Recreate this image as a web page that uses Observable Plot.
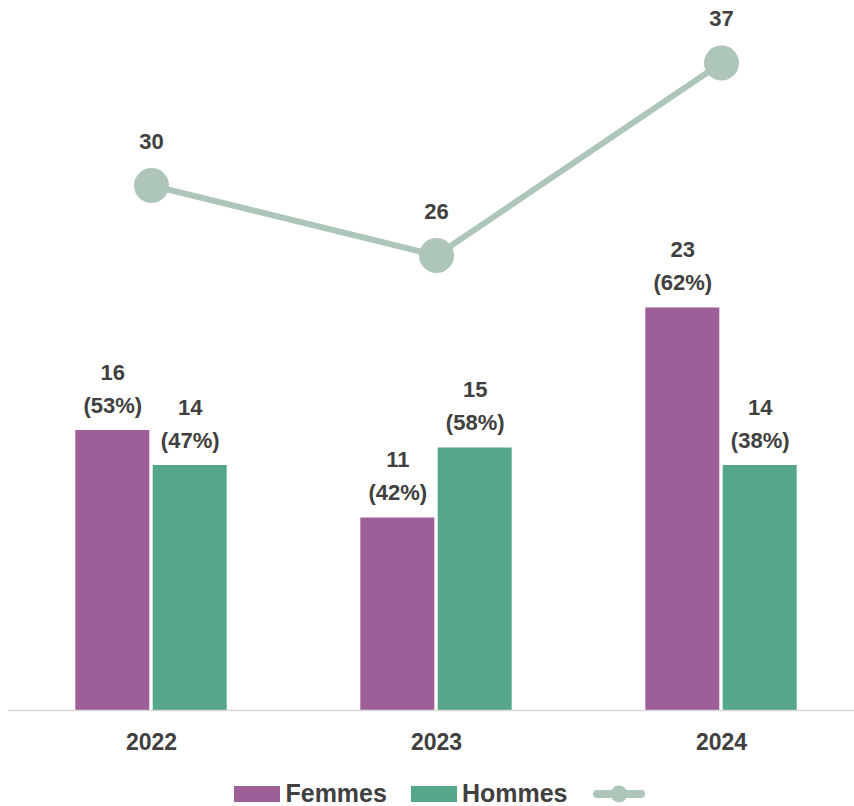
<!DOCTYPE html>
<html>
<head>
<meta charset="utf-8">
<script src="https://cdn.jsdelivr.net/npm/d3@7"></script>
<script src="https://cdn.jsdelivr.net/npm/@observablehq/plot@0.6"></script>
<style>
  body { margin: 0; background: #fff; font-family: "Liberation Sans", Arial, sans-serif; overflow: hidden; }
  #chart svg { display: block; }
  #legend { display: flex; justify-content: center; align-items: center; padding-top: 21px; padding-left: 26px; color: #404040; font-weight: bold; font-size: 25px; line-height: 1; }
  .item { display: flex; align-items: center; margin: 0 12px; }
  .sw { width: 46px; height: 16px; margin-right: 5px; }
</style>
</head>
<body>
<div id="chart"></div>
<div id="legend"></div>
<script>
const years = ["2022", "2023", "2024"];
const femmes = [16, 11, 23];
const hommes = [14, 15, 14];
const femmesPct = [53, 42, 62];
const hommesPct = [47, 58, 38];
const totals = [30, 26, 37];
const seriesNames = ["Femmes", "Hommes"];
const colors = { Femmes: "#9e5f98", Hommes: "#55a68a", Total: "#adc6b9" };
const textColor = "#404040";

const fData = years.map((y, i) => ({ year: y, value: femmes[i], pct: femmesPct[i] }));
const hData = years.map((y, i) => ({ year: y, value: hommes[i], pct: hommesPct[i] }));
const tData = years.map((y, i) => ({ year: y, value: totals[i] }));

const off = 38.7;
const chart = Plot.plot({
  width: 854,
  height: 760,
  marginTop: 10,
  marginBottom: 50,
  marginLeft: 8,
  marginRight: 0,
  style: { fontFamily: "Liberation Sans, Arial, sans-serif", background: "#fff" },
  x: { type: "band", domain: years, range: [7.75, 864], paddingInner: 0.742, paddingOuter: 0.371, label: null },
  y: { domain: [0, 40], axis: null },
  marks: [
    Plot.barY(fData, { x: "year", y: "value", fill: colors.Femmes, dx: -off }),
    Plot.barY(hData, { x: "year", y: "value", fill: colors.Hommes, dx: off }),
    Plot.ruleY([0], { stroke: "#d9d9d9", strokeWidth: 1.5 }),
    Plot.text(fData, { x: "year", y: "value", text: d => `${d.value}\n(${d.pct}%)`, dx: -off, dy: -18, lineAnchor: "bottom", lineHeight: 1.5, fontSize: 22, fontWeight: "bold", fill: textColor }),
    Plot.text(hData, { x: "year", y: "value", text: d => `${d.value}\n(${d.pct}%)`, dx: off, dy: -18, lineAnchor: "bottom", lineHeight: 1.5, fontSize: 22, fontWeight: "bold", fill: textColor }),
    Plot.line(tData, { x: "year", y: "value", stroke: colors.Total, strokeWidth: 6 }),
    Plot.dot(tData, { x: "year", y: "value", r: 17.5, fill: colors.Total, stroke: "none" }),
    Plot.text(tData, { x: "year", y: "value", text: d => `${d.value}`, dy: -37, lineAnchor: "bottom", fontSize: 22, fontWeight: "bold", fill: textColor }),
    Plot.axisX({ tickSize: 0, tickPadding: 23, fontSize: 23, fontWeight: "bold", color: textColor, label: null })
  ]
});
document.getElementById("chart").appendChild(chart);

const legend = document.getElementById("legend");
seriesNames.forEach(n => {
  const it = document.createElement("div");
  it.className = "item";
  it.innerHTML = `<div class="sw" style="background:${colors[n]}"></div><span>${n}</span>`;
  legend.appendChild(it);
});
const li = document.createElement("div");
li.className = "item";
li.innerHTML = `<svg width="54" height="20"><line x1="5" y1="10" x2="49" y2="10" stroke="${colors.Total}" stroke-width="8" stroke-linecap="round"/><circle cx="27" cy="10" r="8.5" fill="${colors.Total}"/></svg>`;
legend.appendChild(li);
</script>
</body>
</html>
